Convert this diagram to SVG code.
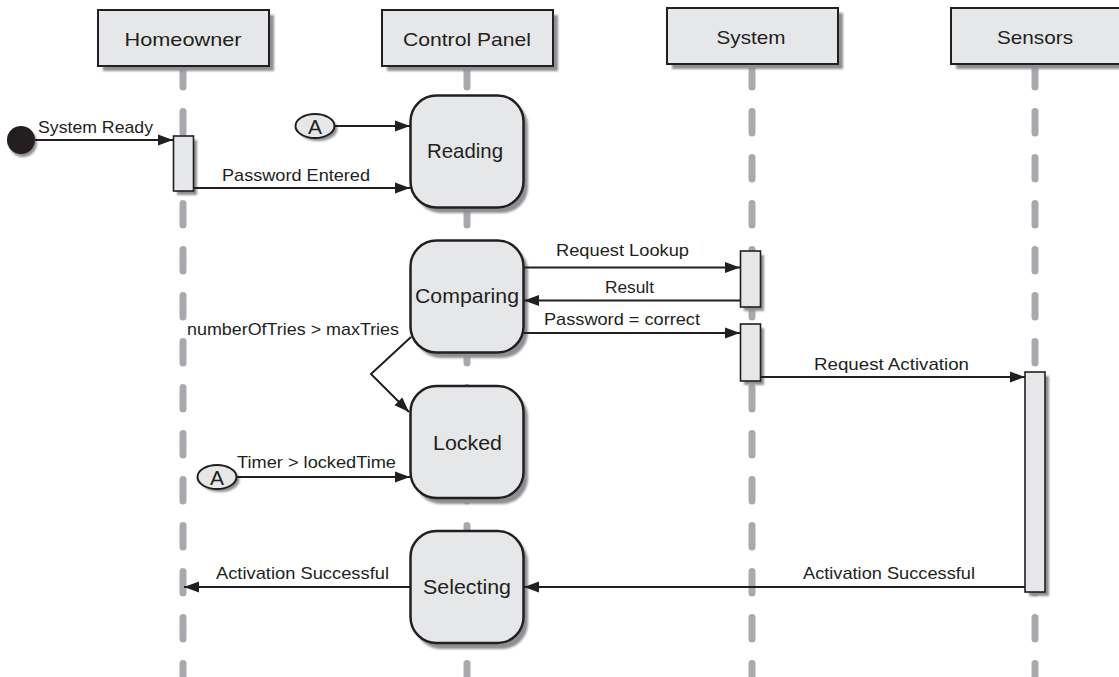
<svg xmlns="http://www.w3.org/2000/svg" width="1119" height="677" viewBox="0 0 1119 677">
<defs>
<style>
text{font-family:"Liberation Sans",Arial,sans-serif;fill:#231f20}
.hdr{font-size:19px;text-anchor:middle}
.lbl{font-size:17px}
.st{font-size:21px;text-anchor:middle}
.life{stroke:#a7a9ac;stroke-width:7;stroke-linecap:round;stroke-dasharray:21.5 24.5;fill:none}
.hbox{fill:#e6e7e8;stroke:#231f20;stroke-width:2}
.shadow{fill:#8d8f92;filter:url(#blur)}
.sbox{fill:#e6e7e8;stroke:#231f20;stroke-width:2.5}
.act{fill:#e6e7e8;stroke:#231f20;stroke-width:1.6}
.msg{stroke:#231f20;stroke-width:2;fill:none;marker-end:url(#ah)}
</style>
<filter id="blur" x="-20%" y="-20%" width="140%" height="140%"><feGaussianBlur stdDeviation="1.2"/></filter>
<marker id="ah" markerUnits="userSpaceOnUse" markerWidth="16" markerHeight="12" refX="15" refY="6" orient="auto">
<path d="M0,0.5 L15,6 L0,11.5 z" fill="#231f20"/>
</marker>
</defs>

<g id="lifelines">
<line class="life" x1="183" y1="65.5" x2="183" y2="690"/>
<line class="life" x1="467" y1="65.5" x2="467" y2="690"/>
<line class="life" x1="752" y1="65.5" x2="752" y2="690"/>
<line class="life" x1="1035" y1="65.5" x2="1035" y2="690"/>
</g>

<g id="homeowner">
<rect class="shadow" x="103" y="15" width="171" height="56"/>
<rect class="hbox" x="98" y="10" width="171" height="56"/>
<text class="hdr" x="183" y="45.5" textLength="117" lengthAdjust="spacingAndGlyphs">Homeowner</text>
</g>
<g id="control-panel">
<rect class="shadow" x="387" y="15" width="171" height="56"/>
<rect class="hbox" x="382" y="10" width="171" height="56"/>
<text class="hdr" x="467" y="45.5" textLength="128" lengthAdjust="spacingAndGlyphs">Control Panel</text>
</g>
<g id="system">
<rect class="shadow" x="672" y="13" width="171" height="56"/>
<rect class="hbox" x="667" y="8" width="171" height="56"/>
<text class="hdr" x="751" y="44" textLength="69" lengthAdjust="spacingAndGlyphs">System</text>
</g>
<g id="sensors">
<rect class="shadow" x="956" y="13" width="171" height="56"/>
<rect class="hbox" x="951" y="8" width="171" height="56"/>
<text class="hdr" x="1035" y="44" textLength="76" lengthAdjust="spacingAndGlyphs">Sensors</text>
</g>

<g id="initial">
<circle class="shadow" cx="23" cy="143" r="14"/>
<circle cx="21" cy="140" r="14" fill="#231f20"/>
</g>

<g id="homeowner-activation">
<rect class="shadow" x="177" y="140" width="20" height="55"/>
<rect class="act" x="173.5" y="136" width="20" height="55"/>
</g>
<g id="system-activation-1">
<rect class="shadow" x="744" y="255" width="20" height="56"/>
<rect class="act" x="740.5" y="251" width="20" height="56"/>
</g>
<g id="system-activation-2">
<rect class="shadow" x="744" y="328" width="20" height="57"/>
<rect class="act" x="740.5" y="324" width="20" height="57"/>
</g>
<g id="sensors-activation">
<rect class="shadow" x="1029" y="376" width="20" height="220"/>
<rect class="act" x="1025" y="372" width="20" height="220"/>
</g>

<g id="connector-a1">
<ellipse class="shadow" cx="318" cy="129" rx="19.5" ry="12"/>
<ellipse cx="315" cy="126" rx="19.5" ry="12" fill="#e6e7e8" stroke="#231f20" stroke-width="2"/>
<text class="st" x="315" y="133.5" font-size="20">A</text>
</g>
<g id="connector-a2">
<ellipse class="shadow" cx="220" cy="480" rx="19.5" ry="12"/>
<ellipse cx="217" cy="477" rx="19.5" ry="12" fill="#e6e7e8" stroke="#231f20" stroke-width="2"/>
<text class="st" x="217" y="484.5" font-size="20">A</text>
</g>

<g id="reading">
<rect class="shadow" x="415" y="100" width="113" height="113" rx="26"/>
<rect class="sbox" x="410.5" y="95.5" width="113" height="112" rx="26"/>
<text class="st" x="465" y="158" textLength="76" lengthAdjust="spacingAndGlyphs">Reading</text>
</g>
<g id="comparing">
<rect class="shadow" x="415" y="245" width="113" height="113" rx="26"/>
<rect class="sbox" x="410.5" y="240.5" width="113" height="112" rx="26"/>
<text class="st" x="467" y="303" textLength="104" lengthAdjust="spacingAndGlyphs">Comparing</text>
</g>
<g id="locked">
<rect class="shadow" x="415" y="391" width="113" height="113" rx="26"/>
<rect class="sbox" x="410.5" y="386" width="113" height="112" rx="26"/>
<text class="st" x="467.5" y="450" textLength="69" lengthAdjust="spacingAndGlyphs">Locked</text>
</g>
<g id="selecting">
<rect class="shadow" x="415" y="536" width="113" height="113" rx="26"/>
<rect class="sbox" x="410.5" y="531" width="113" height="112" rx="26"/>
<text class="st" x="467" y="594" textLength="88" lengthAdjust="spacingAndGlyphs">Selecting</text>
</g>

<g id="connectors">
<path class="msg" d="M35,140 L173,140"/>
<path class="msg" d="M335,126 L410,126"/>
<path class="msg" d="M194,188 L410,188"/>
<path class="msg" d="M524,267.5 L740,267.5"/>
<path class="msg" d="M740,300.5 L524,300.5"/>
<path class="msg" d="M524,333 L740,333"/>
<path class="msg" d="M761,377 L1025,377"/>
<path class="msg" d="M411,337 L371,374 L409,412"/>
<path class="msg" d="M237,477 L410,477"/>
<path class="msg" d="M1025,587 L524,587"/>
<path class="msg" d="M410,587 L184,587"/>
</g>

<g id="labels">
<text class="lbl" x="38" y="133" textLength="115" lengthAdjust="spacingAndGlyphs">System Ready</text>
<text class="lbl" x="222" y="181" textLength="148" lengthAdjust="spacingAndGlyphs">Password Entered</text>
<text class="lbl" x="556" y="256" textLength="133" lengthAdjust="spacingAndGlyphs">Request Lookup</text>
<text class="lbl" x="605" y="293" textLength="49" lengthAdjust="spacingAndGlyphs">Result</text>
<text class="lbl" x="544" y="325" textLength="156" lengthAdjust="spacingAndGlyphs">Password = correct</text>
<text class="lbl" x="187" y="335" textLength="212" lengthAdjust="spacingAndGlyphs">numberOfTries &gt; maxTries</text>
<text class="lbl" x="814" y="370" textLength="155" lengthAdjust="spacingAndGlyphs">Request Activation</text>
<text class="lbl" x="237" y="468" textLength="159" lengthAdjust="spacingAndGlyphs">Timer &gt; lockedTime</text>
<text class="lbl" x="216" y="579" textLength="173" lengthAdjust="spacingAndGlyphs">Activation Successful</text>
<text class="lbl" x="803" y="579" textLength="172" lengthAdjust="spacingAndGlyphs">Activation Successful</text>
</g>
</svg>
